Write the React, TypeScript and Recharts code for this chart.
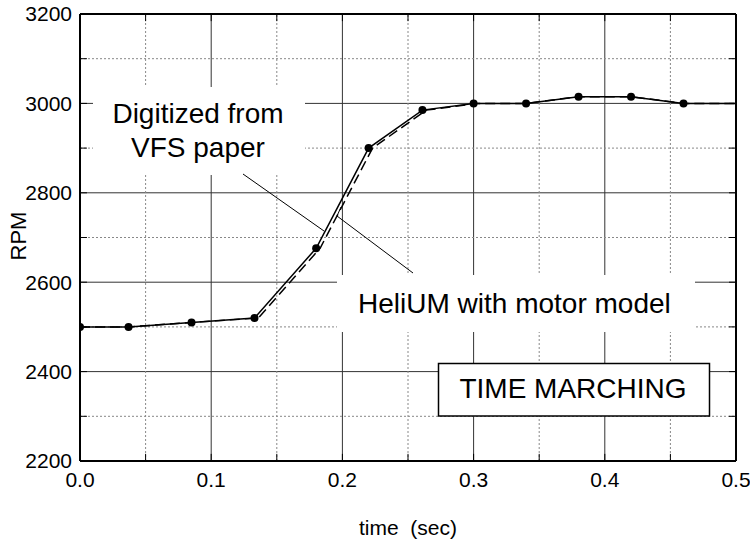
import { LineChart, Line, XAxis, YAxis, CartesianGrid, ReferenceLine } from "recharts"

const X_TICKS = [0, 0.1, 0.2, 0.3, 0.4, 0.5]
const X_MINOR = [0.05, 0.15, 0.25, 0.35, 0.45]
const X_ALL = [0.05, 0.1, 0.15, 0.2, 0.25, 0.3, 0.35, 0.4, 0.45]
const Y_TICKS = [2200, 2400, 2600, 2800, 3000, 3200]
const Y_MINOR = [2300, 2500, 2700, 2900, 3100]
const Y_ALL = [2300, 2400, 2500, 2600, 2700, 2800, 2900, 3000, 3100]

const X_DOMAIN = [0, 0.5]
const Y_DOMAIN = [2200, 3200]
// inward tick length, in axis units (about 7px)
const X_TICK_LEN = 0.0053
const Y_TICK_LEN = 16

const DIG_T = [0, 0.037, 0.085, 0.133, 0.18, 0.22, 0.261, 0.3, 0.34, 0.38, 0.42, 0.46, 0.5]
const DIG_RPM = [2500, 2500, 2510, 2520, 2676, 2900, 2985, 3000, 3000, 3015, 3015, 3000, 3000]

// HeliUM with motor model (dashed)
const MODEL_T = [0, 0.037, 0.085, 0.136, 0.183, 0.223, 0.264, 0.303, 0.34, 0.38, 0.42, 0.46, 0.5]
const MODEL_RPM = [2500, 2500, 2510, 2520, 2676, 2900, 2985, 3000, 3000, 3015, 3015, 3000, 3000]

const digitized = DIG_T.map((t, i) => ({ t, rpm: DIG_RPM[i] }))
const model = MODEL_T.map((t, i) => ({ t, rpm: MODEL_RPM[i] }))

const FONT = "'Liberation Sans', Arial, Helvetica, sans-serif"
const tickStyle = { fontSize: 21, fill: "#000", fontFamily: FONT }
const frameLine = { stroke: "#000", strokeWidth: 2 }

const renderDot = (props: any) => {
  const { cx, cy, index } = props
  if (index === DIG_T.length - 1) return <g key={`d${index}`} />
  return <circle key={`d${index}`} cx={cx} cy={cy} r={4} fill="#000" />
}

export default function App() {
  return (
    <div style={{ position: "absolute", left: 0, top: 0, width: 750, height: 544, background: "#fff" }}>
      <LineChart
        width={750}
        height={544}
        data={digitized}
        margin={{ top: 14, right: 14, left: 0, bottom: 0 }}
      >
        <CartesianGrid stroke="#333" />
        {X_MINOR.map((v) => (
          <ReferenceLine key={`gx${v}`} x={v} stroke="#888" strokeDasharray="2 2" />
        ))}
        {Y_MINOR.map((v) => (
          <ReferenceLine key={`gy${v}`} y={v} stroke="#888" strokeDasharray="2 2" />
        ))}
        {X_ALL.map((v) => (
          <ReferenceLine key={`tb${v}`} segment={[{ x: v, y: Y_DOMAIN[0] }, { x: v, y: Y_DOMAIN[0] + Y_TICK_LEN }]} stroke="#000" />
        ))}
        {X_ALL.map((v) => (
          <ReferenceLine key={`tt${v}`} segment={[{ x: v, y: Y_DOMAIN[1] }, { x: v, y: Y_DOMAIN[1] - Y_TICK_LEN }]} stroke="#000" />
        ))}
        {Y_ALL.map((v) => (
          <ReferenceLine key={`tl${v}`} segment={[{ x: X_DOMAIN[0], y: v }, { x: X_DOMAIN[0] + X_TICK_LEN, y: v }]} stroke="#000" />
        ))}
        {Y_ALL.map((v) => (
          <ReferenceLine key={`tr${v}`} segment={[{ x: X_DOMAIN[1], y: v }, { x: X_DOMAIN[1] - X_TICK_LEN, y: v }]} stroke="#000" />
        ))}
        <ReferenceLine y={Y_DOMAIN[1]} stroke="#000" strokeWidth={2} />
        <ReferenceLine x={X_DOMAIN[1]} stroke="#000" strokeWidth={2} />
        <XAxis
          dataKey="t"
          type="number"
          domain={X_DOMAIN}
          ticks={X_TICKS}
          tickFormatter={(v: number) => v.toFixed(1)}
          tick={tickStyle}
          tickLine={false}
          tickMargin={5}
          height={83}
          axisLine={frameLine}
          allowDataOverflow
        />
        <YAxis
          dataKey="rpm"
          type="number"
          domain={Y_DOMAIN}
          ticks={Y_TICKS}
          tick={tickStyle}
          tickLine={false}
          width={80}
          axisLine={frameLine}
          allowDataOverflow
        />
        <Line
          data={model}
          dataKey="rpm"
          type="linear"
          stroke="#000"
          strokeWidth={1.5}
          strokeDasharray="10 5"
          dot={false}
          isAnimationActive={false}
        />
        <Line
          data={digitized}
          dataKey="rpm"
          type="linear"
          stroke="#000"
          strokeWidth={1.5}
          dot={renderDot}
          isAnimationActive={false}
        />
      </LineChart>

      <svg
        width={750}
        height={544}
        style={{ position: "absolute", left: 0, top: 0, pointerEvents: "none" }}
        fontFamily={FONT}
      >
        <rect x={93} y={87} width={212} height={88} fill="#fff" />
        <rect x={337} y={275} width={358} height={57} fill="#fff" />
        <line x1={243} y1={174} x2={324} y2={231} stroke="#000" strokeWidth={1} />
        <polyline points="413,273 337,216 341,207" fill="none" stroke="#000" strokeWidth={1} />
        <text x={198} y={123} fontSize={28} textAnchor="middle" fill="#000">Digitized from</text>
        <text x={198} y={157} fontSize={28} textAnchor="middle" fill="#000">VFS paper</text>
        <text x={358} y={313} fontSize={28} fill="#000">HeliUM with motor model</text>
        <rect x={438.5} y={363.5} width={271} height={52.5} fill="#fff" stroke="#000" strokeWidth={1.5} />
        <text x={573} y={398} fontSize={28} textAnchor="middle" fill="#000">TIME MARCHING</text>
        <text x={408} y={535} fontSize={21} textAnchor="middle" fill="#000" style={{ whiteSpace: "pre" }}>
          {"time  (sec)"}
        </text>
        <text
          x={0}
          y={0}
          fontSize={22}
          textAnchor="middle"
          fill="#000"
          transform="translate(26,236) rotate(-90)"
        >
          RPM
        </text>
      </svg>
    </div>
  )
}
